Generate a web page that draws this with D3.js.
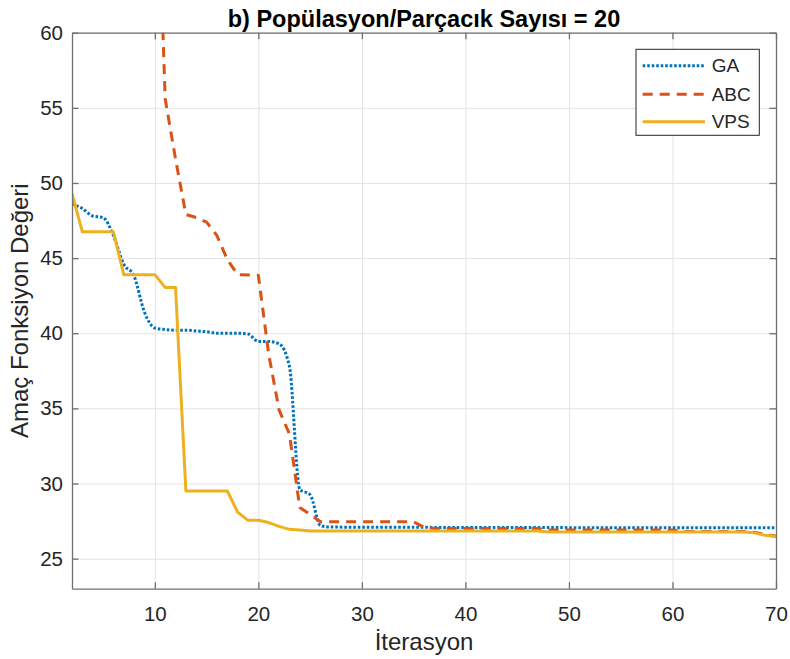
<!DOCTYPE html>
<html>
<head>
<meta charset="utf-8">
<script src="https://cdn.jsdelivr.net/npm/d3@7"></script>
<style>
    body { margin: 0; background: #fff; }
    svg { font-family: Arial, "Liberation Sans", sans-serif; }
</style>
</head>
<body>
<div id="chart"></div>
<script>
// values (iteration, objective value)
const gaIter   = [2, 3, 4, 5, 6, 7, 8, 9, 10, 11, 12, 13, 14, 15, 16, 17, 18, 19, 20, 21, 22, 23, 24, 25, 26, 27, 70];
const gaValue  = [48.6, 48.3, 47.8, 47.7, 46.5, 44.6, 43.8, 41.4, 40.35, 40.25, 40.2, 40.2, 40.15, 40.1, 40.0, 40.0, 40.0, 39.95, 39.45, 39.45, 39.3, 37.8, 29.6, 29.25, 27.2, 27.1, 27.05];

const abcIter  = [10, 11, 12, 13, 14, 15, 16, 17, 18, 20, 21, 22, 23, 24, 25, 26, 35, 36, 37, 47, 48, 60, 61, 67, 68, 69, 70];
const abcValue = [76, 55.6, 51.6, 47.9, 47.7, 47.4, 46.5, 44.9, 43.9, 43.85, 38.6, 34.9, 33.3, 28.4, 27.95, 27.45, 27.45, 27.1, 27.0, 27.0, 26.9, 26.9, 26.8, 26.8, 26.75, 26.6, 26.5];

const vpsIter  = [2, 3, 6, 7, 10, 11, 12, 13, 17, 18, 19, 20, 21, 22, 23, 24, 25, 47, 48, 67, 68, 69, 70];
const vpsValue = [49.3, 46.75, 46.75, 43.9, 43.9, 43.05, 43.05, 29.5, 29.5, 28.1, 27.55, 27.55, 27.4, 27.15, 26.95, 26.9, 26.84, 26.84, 26.78, 26.78, 26.7, 26.55, 26.45];

const xTicks = [10, 20, 30, 40, 50, 60, 70];
const yTicks = [25, 30, 35, 40, 45, 50, 55, 60];
const seriesNames = ["GA", "ABC", "VPS"];

const W = 790, H = 659;
const margin = { top: 32.7, right: 14, bottom: 70.3, left: 72 };
const width = W - margin.left - margin.right;
const height = H - margin.top - margin.bottom;

const series = [
    { name: seriesNames[0], iter: gaIter, value: gaValue, color: "#0072BD", dash: "2.6,1.9", curve: d3.curveMonotoneX },
    { name: seriesNames[1], iter: abcIter, value: abcValue, color: "#D95319", dash: "10,7", curve: d3.curveLinear },
    { name: seriesNames[2], iter: vpsIter, value: vpsValue, color: "#EDB120", dash: null, curve: d3.curveLinear }
];

const svg = d3.select("#chart").append("svg")
    .attr("width", W)
    .attr("height", H);

const g = svg.append("g")
    .attr("transform", `translate(${margin.left},${margin.top})`);

const x = d3.scaleLinear().domain([2, 70]).range([0, width]);
const y = d3.scaleLinear().domain([23, 60]).range([height, 0]);

// grid
g.append("g")
    .call(d3.axisBottom(x).tickValues(xTicks).tickSize(height).tickFormat(""))
    .call(a => a.select(".domain").remove())
    .selectAll("line").attr("stroke", "#e3e3e3").attr("stroke-width", 1);

g.append("g")
    .call(d3.axisLeft(y).tickValues(yTicks).tickSize(-width).tickFormat(""))
    .call(a => a.select(".domain").remove())
    .selectAll("line").attr("stroke", "#e3e3e3").attr("stroke-width", 1);

// lines
svg.append("clipPath").attr("id", "clip")
    .append("rect").attr("width", width).attr("height", height);

const plot = g.append("g").attr("clip-path", "url(#clip)");

series.forEach(s => {
    const pts = s.iter.map((it, i) => [it, s.value[i]]);
    plot.append("path")
        .datum(pts)
        .attr("fill", "none")
        .attr("stroke", s.color)
        .attr("stroke-width", 3)
        .attr("stroke-dasharray", s.dash)
        .attr("stroke-linejoin", "round")
        .attr("d", d3.line().x(d => x(d[0])).y(d => y(d[1])).curve(s.curve));
});

// axes, ticks inward on all four sides
const axisColor = "#6f6f6f";
const textColor = "#262626";

const bottomAxis = g.append("g")
    .attr("transform", `translate(0,${height})`)
    .call(d3.axisBottom(x).tickValues(xTicks).tickSizeInner(-6.5).tickSizeOuter(0).tickPadding(14));
const leftAxis = g.append("g")
    .call(d3.axisLeft(y).tickValues(yTicks).tickSizeInner(-6.5).tickSizeOuter(0).tickPadding(9));
const topAxis = g.append("g")
    .call(d3.axisTop(x).tickValues(xTicks).tickSizeInner(-6.5).tickSizeOuter(0).tickFormat(""));
const rightAxis = g.append("g")
    .attr("transform", `translate(${width},0)`)
    .call(d3.axisRight(y).tickValues(yTicks).tickSizeInner(-6.5).tickSizeOuter(0).tickFormat(""));

[bottomAxis, leftAxis, topAxis, rightAxis].forEach(a => {
    a.selectAll(".domain, line").attr("stroke", axisColor).attr("stroke-width", 1.3);
    a.selectAll("text")
        .attr("fill", textColor)
        .style("font-size", "20.5px")
        .style("font-family", "Arial, 'Liberation Sans', sans-serif");
});
bottomAxis.selectAll("text").attr("dy", "0.71em").attr("y", 18);

// titles
svg.append("text")
    .attr("x", margin.left + width / 2)
    .attr("y", 26.5)
    .attr("text-anchor", "middle")
    .attr("fill", "#000")
    .style("font-size", "23.5px")
    .style("font-weight", "bold")
    .text("b) Popülasyon/Parçacık Sayısı = 20");

svg.append("text")
    .attr("x", margin.left + width / 2)
    .attr("y", 649.5)
    .attr("text-anchor", "middle")
    .attr("fill", textColor)
    .style("font-size", "24px")
    .text("İterasyon");

svg.append("text")
    .attr("transform", `translate(28,${margin.top + height / 2}) rotate(-90)`)
    .attr("text-anchor", "middle")
    .attr("fill", textColor)
    .style("font-size", "24px")
    .text("Amaç Fonksiyon Değeri");

// legend
const legend = svg.append("g").attr("transform", "translate(636,49.3)");
legend.append("rect")
    .attr("width", 123.3)
    .attr("height", 86)
    .attr("fill", "#fff")
    .attr("stroke", "#262626")
    .attr("stroke-width", 1);

const rowY = [16.4, 45, 72.4];
series.forEach((s, i) => {
    legend.append("line")
        .attr("x1", 6.7).attr("x2", 69)
        .attr("y1", rowY[i]).attr("y2", rowY[i])
        .attr("stroke", s.color)
        .attr("stroke-width", 3)
        .attr("stroke-dasharray", s.dash);
    legend.append("text")
        .attr("x", 75.7)
        .attr("y", rowY[i])
        .attr("dy", "0.35em")
        .attr("fill", textColor)
        .style("font-size", "19px")
        .text(s.name);
});
</script>
</body>
</html>
